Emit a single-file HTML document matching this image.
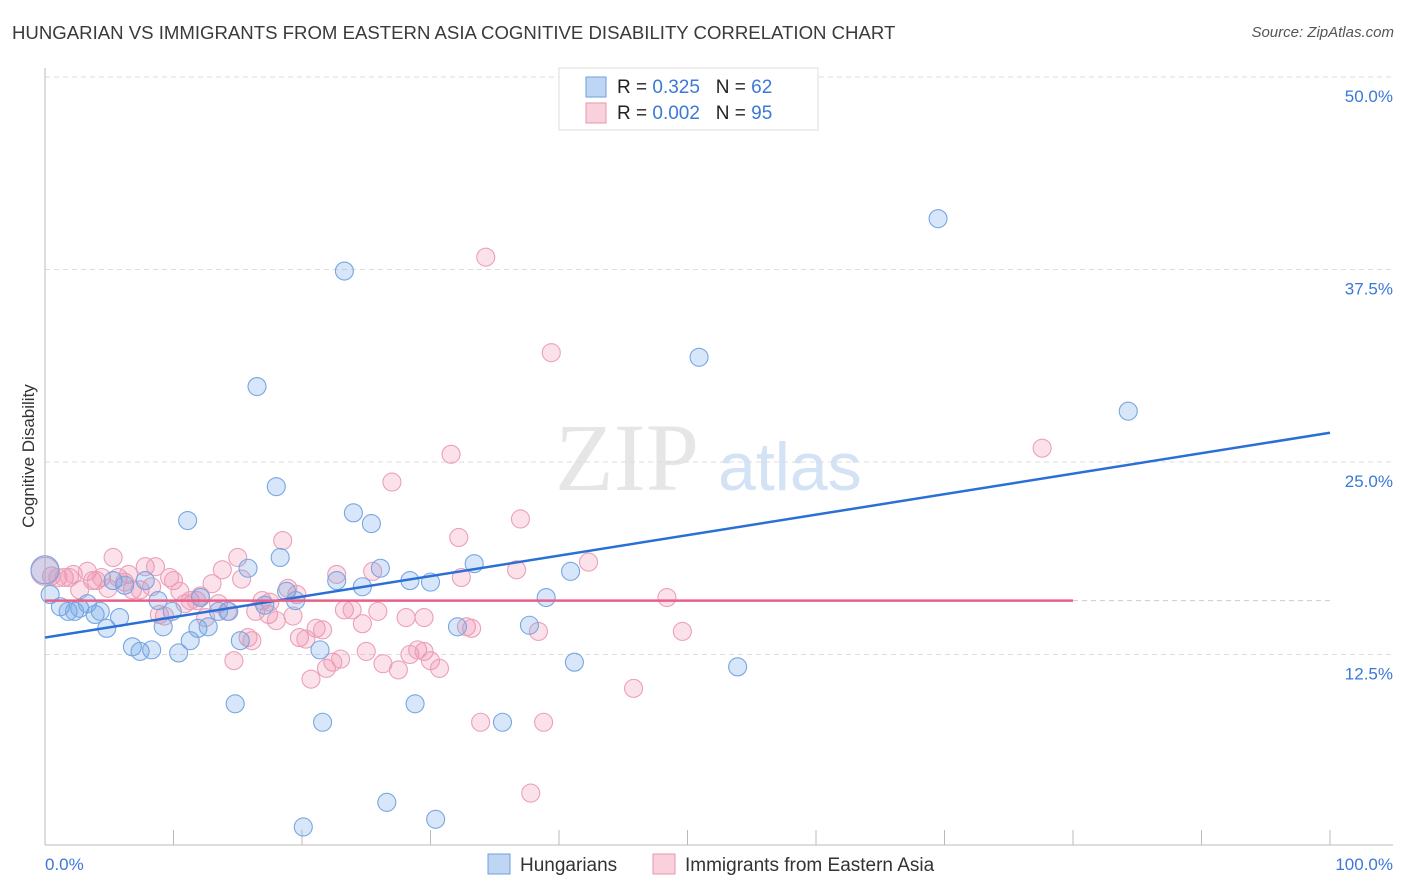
<!DOCTYPE html>
<html><head><meta charset="utf-8">
<style>
body{margin:0;background:#fff;font-family:"Liberation Sans",sans-serif;}
#wrap{position:relative;width:1406px;height:892px;overflow:hidden;}
.t{position:absolute;white-space:nowrap;}
</style></head>
<body>
<div id="wrap">
<div class="t" style="left:12px;top:22px;font-size:18.6px;color:#3a3a3a;">HUNGARIAN VS IMMIGRANTS FROM EASTERN ASIA COGNITIVE DISABILITY CORRELATION CHART</div>
<div class="t" style="right:12px;top:24px;font-size:15px;color:#555;font-style:italic;">Source: ZipAtlas.com</div>
<svg id="plot" width="1406" height="892" style="position:absolute;left:0;top:0"></svg>
</div>
<script>
const yTicks=[12.5,25,37.5,50];
const yTickLabels=["12.5%","25.0%","37.5%","50.0%"];
const xTickCount=10;
const blueX=[0,0.4,1.2,1.8,2.3,2.7,3.3,3.9,4.3,4.8,5.3,5.8,6.2,6.8,7.4,7.8,8.3,8.8,9.2,9.9,10.4,11.1,11.3,11.9,12.1,12.7,13.5,14.3,14.8,15.2,15.8,16.5,17.1,18.0,18.3,18.8,19.5,20.1,21.4,21.6,22.7,23.3,24.0,24.7,25.4,26.1,26.6,28.4,28.8,30.0,30.4,32.1,33.4,35.6,37.7,39.0,40.9,41.2,50.9,53.9,69.5,84.3];
const blueY=[18.0,16.4,15.6,15.3,15.3,15.5,15.8,15.1,15.3,14.2,17.3,14.9,17.0,13.0,12.7,17.3,12.8,16.0,14.3,15.3,12.6,21.2,13.4,14.2,16.2,14.3,15.3,15.3,9.3,13.4,18.1,29.9,15.7,23.4,18.8,16.6,16.0,1.3,12.8,8.1,17.3,37.4,21.7,16.9,21.0,18.1,2.9,17.3,9.3,17.2,1.8,14.3,18.4,8.1,14.4,16.2,17.9,12.0,31.8,11.7,40.8,28.3];
const pinkX=[0,0.5,1.0,1.5,1.9,2.2,2.7,3.3,3.7,4.0,4.4,4.9,5.3,5.7,6.2,6.5,6.8,7.4,7.8,8.3,8.6,8.9,9.3,9.7,10.0,10.5,10.9,11.3,11.8,12.1,12.5,13.0,13.5,13.8,14.2,14.7,15.0,15.3,15.8,16.1,16.4,16.9,17.4,17.5,18.0,18.5,18.9,19.3,19.6,19.8,20.3,20.7,21.1,21.6,21.9,22.4,22.7,23.0,23.3,23.9,24.7,25.0,25.5,25.9,26.3,27.0,27.5,28.1,28.4,29.0,29.5,29.5,30.0,30.7,31.6,32.2,32.4,32.8,33.2,33.9,34.3,36.7,37.0,38.4,38.8,37.8,39.4,42.3,45.8,48.4,49.6,77.6];
const pinkY=[17.9,17.6,17.5,17.5,17.5,17.7,16.7,17.9,17.3,17.3,17.5,16.8,18.8,17.5,17.2,17.7,16.7,16.7,18.2,16.9,18.2,15.1,15.0,17.5,17.3,16.6,15.8,16.0,16.0,16.3,14.9,17.1,15.8,18.0,15.3,12.1,18.8,17.4,13.6,13.4,15.3,16.0,15.1,15.9,14.7,19.9,16.8,15.0,16.4,13.6,13.5,10.9,14.2,14.1,11.6,12.0,17.7,12.2,15.4,15.4,14.5,12.7,17.9,15.3,11.9,23.7,11.5,14.9,12.5,12.8,12.7,14.9,12.1,11.6,25.5,20.1,17.5,14.3,14.2,8.1,38.3,18.0,21.3,14.0,8.1,3.5,32.1,18.5,10.3,16.2,14.0,25.9];
const blueTrend=[13.6,26.9]; // y at x=0, x=100
const pinkTrend=[16.0,16.0,80]; // y0, y1, end x
const NS="http://www.w3.org/2000/svg";
const svg=document.getElementById('plot');
const X0=45,X1=1330,Y0=847,PPY=15.4;
function sx(v){return X0+v*(X1-X0)/100;}
function sy(v){return Y0-v*PPY;}
function mk(tag,attrs,parent){const e=document.createElementNS(NS,tag);for(const k in attrs)e.setAttribute(k,attrs[k]);(parent||svg).appendChild(e);return e;}
let wm=mk('text',{x:555,y:490,'font-size':96,'font-family':'Liberation Serif,serif',fill:'#e6e6e6'});wm.textContent='ZIP';


let wm2=mk('text',{x:718,y:490,'font-size':68,'font-family':'Liberation Sans,sans-serif',fill:'#d3e2f5'});wm2.textContent='atlas';


yTicks.forEach((t,i)=>{
 let g=mk('line',{x1:X0,x2:1393,y1:sy(t),y2:sy(t),stroke:'#dcdcdc','stroke-dasharray':'5,4'});
 
 
 let l=mk('text',{x:1393,y:sy(t)+25,'text-anchor':'end','font-size':17,fill:'#3b78d8'});l.textContent=yTickLabels[i];
 
 
});
let ax=mk('line',{x1:X0,x2:X0,y1:68,y2:845,stroke:'#bbb'});


let bx=mk('line',{x1:X0,x2:1393,y1:845,y2:845,stroke:'#bbb'});


for(let i=0;i<=xTickCount;i++){
 let tk=mk('line',{x1:sx(i*10),x2:sx(i*10),y1:830,y2:845,stroke:'#bbb'});
 
 
}
let xl0=mk('text',{x:45,y:870,'font-size':17,fill:'#3b78d8'});xl0.textContent='0.0%';


let xl1=mk('text',{x:1393,y:870,'text-anchor':'end','font-size':17,fill:'#3b78d8'});xl1.textContent='100.0%';


let yt=mk('text',{x:34,y:456,'font-size':17,fill:'#333',transform:'rotate(-90 34 456)','text-anchor':'middle'});yt.textContent='Cognitive Disability';


function dots(xs,ys,fill,stroke,name){
 xs.forEach((v,i)=>{
  const r=(i===0)?14:9;
  let c=mk('circle',{cx:sx(v),cy:sy(ys[i]),r:r,fill:fill,stroke:stroke,'stroke-width':1.1});
  
  
 });
}
dots(pinkX,pinkY,'rgba(240,140,170,0.25)','#eba0b8','pink-point');
dots(blueX,blueY,'rgba(110,165,230,0.28)','#78a6e2','blue-point');
let bt=mk('line',{x1:sx(0),y1:sy(blueTrend[0]),x2:sx(100),y2:sy(blueTrend[1]),stroke:'#2a6fd6','stroke-width':2.5});


let pt=mk('line',{x1:sx(0),y1:sy(pinkTrend[0]),x2:sx(pinkTrend[2]),y2:sy(pinkTrend[1]),stroke:'#e8608a','stroke-width':2.5});


let pd=mk('line',{x1:sx(pinkTrend[2]),y1:sy(pinkTrend[1]),x2:sx(100),y2:sy(pinkTrend[1]),stroke:'#ccc','stroke-dasharray':'5,4'});


let lg=mk('rect',{x:559,y:68,width:259,height:62,fill:'#fff',stroke:'#ddd'});


[[0,'rgba(110,165,230,0.45)','#6d9fe0','0.325','62',98],[1,'rgba(240,140,170,0.4)','#e996b0','0.002','95',124]].forEach(a=>{
 let s=mk('rect',{x:586,y:a[5]-21,width:20,height:20,fill:a[1],stroke:a[2]});
 
 
 let t=mk('text',{x:617,y:a[5]-5,'font-size':19,fill:'#222'});
 t.innerHTML='R = <tspan fill="#3b78d8">'+a[3]+'</tspan>&#160;&#160;&#160;N = <tspan fill="#3b78d8">'+a[4]+'</tspan>';
 
 
});
[[488,'rgba(110,165,230,0.45)','#6d9fe0','Hungarians'],[653,'rgba(240,140,170,0.4)','#e996b0','Immigrants from Eastern Asia']].forEach(a=>{
 let s=mk('rect',{x:a[0],y:854,width:22,height:20,fill:a[1],stroke:a[2]});
 
 
 let t=mk('text',{x:a[0]+32,y:871,'font-size':19,fill:'#333'});t.textContent=a[3];
 
 
});
</script>
</body></html>
